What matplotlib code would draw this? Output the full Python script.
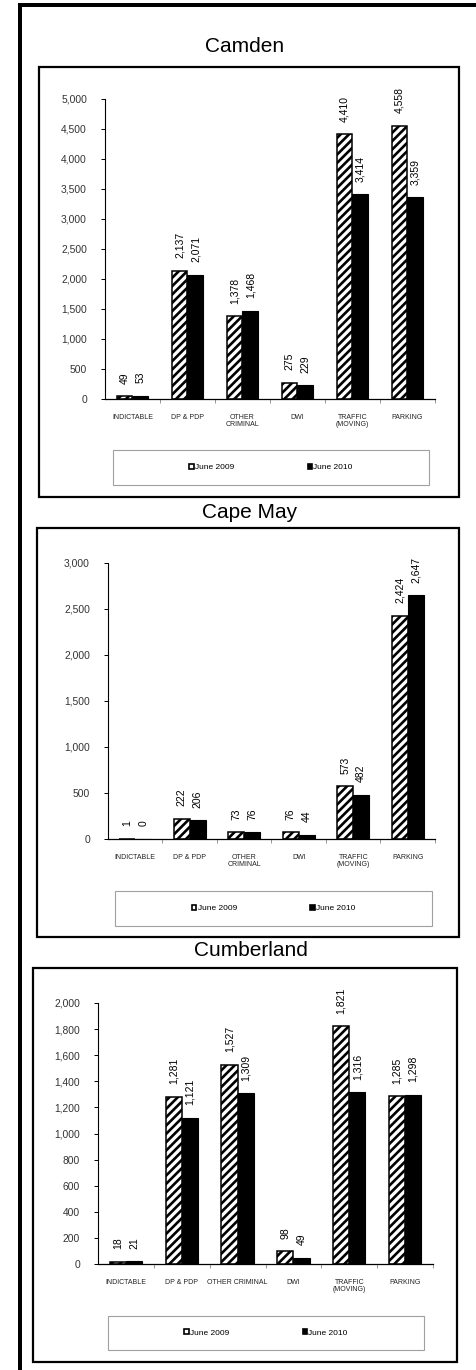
import numpy as np
import matplotlib
matplotlib.use("Agg")
import matplotlib.pyplot as plt
from matplotlib.patches import Rectangle, Patch

plt.rcParams['font.family'] = ['Liberation Sans', 'DejaVu Sans']
plt.rcParams['hatch.linewidth'] = 1.9

categories = ["INDICTABLE", "DP & PDP", "OTHER\nCRIMINAL", "DWI", "TRAFFIC\n(MOVING)", "PARKING"]
categories_cumberland = ["INDICTABLE", "DP & PDP", "OTHER CRIMINAL", "DWI", "TRAFFIC\n(MOVING)", "PARKING"]
series_names = ["June 2009", "June 2010"]

camden_2009 = [49, 2137, 1378, 275, 4410, 4558]
camden_2010 = [53, 2071, 1468, 229, 3414, 3359]
cape_may_2009 = [1, 222, 73, 76, 573, 2424]
cape_may_2010 = [0, 206, 76, 44, 482, 2647]
cumberland_2009 = [18, 1281, 1527, 98, 1821, 1285]
cumberland_2010 = [21, 1121, 1309, 49, 1316, 1298]

camden_ticks = [0, 500, 1000, 1500, 2000, 2500, 3000, 3500, 4000, 4500, 5000]
cape_may_ticks = [0, 500, 1000, 1500, 2000, 2500, 3000]
cumberland_ticks = [0, 200, 400, 600, 800, 1000, 1200, 1400, 1600, 1800, 2000]

W, H = 477, 1370
fig = plt.figure(figsize=(W / 100, H / 100), dpi=100)


def fx(px):
    return px / W


def fy(py):
    return 1 - py / H


def fig_rect(x0, y0, x1, y1, **kw):
    """Rectangle given in pixel coords (y from top)."""
    r = Rectangle((fx(x0), fy(y1)), (x1 - x0) / W, (y1 - y0) / H,
                  transform=fig.transFigure, **kw)
    fig.add_artist(r)
    return r


# thick page frame on top and left
fig_rect(18, 3, 477, 7, color='black', lw=0)
fig_rect(18, 3, 22, 1370, color='black', lw=0)

# pixel layout of each panel: box, title centre, plot area, legend box
panels = [
    dict(title="Camden", labels=categories, v09=camden_2009, v10=camden_2010, ticks=camden_ticks,
         box=(39, 67, 459, 497), title_xy=(245, 47), plot=(105, 99, 435, 399), legend=(113, 450, 429, 485)),
    dict(title="Cape May", labels=categories, v09=cape_may_2009, v10=cape_may_2010, ticks=cape_may_ticks,
         box=(37, 528, 459, 937), title_xy=(250, 512), plot=(108, 563, 435, 839), legend=(115, 891, 432, 926)),
    dict(title="Cumberland", labels=categories_cumberland, v09=cumberland_2009, v10=cumberland_2010,
         ticks=cumberland_ticks, box=(33, 968, 457, 1362), title_xy=(251, 950), plot=(98, 1003, 433, 1264),
         legend=(108, 1316, 424, 1350)),
]

bar_w = 0.29

for p in panels:
    fig_rect(*p['box'], fill=False, ec='black', lw=1.6)
    fig.text(fx(p['title_xy'][0]), fy(p['title_xy'][1]), p['title'],
             ha='center', va='center', fontsize=15, color='black')

    x0, y0, x1, y1 = p['plot']
    ax = fig.add_axes([fx(x0), fy(y1), (x1 - x0) / W, (y1 - y0) / H])
    x = np.arange(len(p['labels']))
    ax.bar(x - bar_w / 2, p['v09'], bar_w, color='white', edgecolor='black', hatch='////', lw=1.1)
    ax.bar(x + bar_w / 2, p['v10'], bar_w, color='black', edgecolor='black', lw=0.8)

    for xs, vals in ((x - bar_w / 2, p['v09']), (x + bar_w / 2, p['v10'])):
        for xi, v in zip(xs, vals):
            ax.annotate(f"{v:,}", (xi, v), xytext=(0, 9), textcoords='offset points',
                        rotation=90, ha='center', va='bottom', fontsize=7.5, color='black')

    ax.set_xlim(-0.5, len(x) - 0.5)
    ax.set_ylim(0, p['ticks'][-1])
    ax.set_yticks(p['ticks'])
    ax.set_yticklabels([f"{t:,}" for t in p['ticks']])
    ax.set_xticks(x)
    ax.set_xticklabels(p['labels'])
    for lab in ax.get_xticklabels():
        lab.set_linespacing(1.0)
    ax.set_xticks(np.arange(0.5, len(x), 1), minor=True)

    ax.tick_params(axis='x', which='major', length=0, pad=11, labelsize=5, labelcolor='#222222')
    ax.tick_params(axis='x', which='minor', length=3, width=0.6, color='#888888')
    ax.tick_params(axis='y', length=3, width=0.7, pad=10, labelsize=7.4, labelcolor='#333333')
    for side in ('top', 'right'):
        ax.spines[side].set_visible(False)
    ax.spines['left'].set_linewidth(0.8)
    ax.spines['bottom'].set_linewidth(0.9)

    # legend box and entries
    lx0, ly0, lx1, ly1 = p['legend']
    fig_rect(lx0, ly0, lx1, ly1, fill=False, ec='#a0a0a0', lw=0.8)
    handles = [Patch(facecolor='white', edgecolor='black', lw=1.2, label=series_names[0]),
               Patch(facecolor='black', edgecolor='black', lw=1.2, label=series_names[1])]
    fig.legend(handles=handles, loc='center', bbox_to_anchor=(fx((lx0 + lx1) / 2), fy((ly0 + ly1) / 2)),
               ncol=2, frameon=False, fontsize=6, handlelength=0.55, handleheight=0.55,
               handletextpad=0.15, columnspacing=8.8)

fig.savefig("out.png", dpi=100)
